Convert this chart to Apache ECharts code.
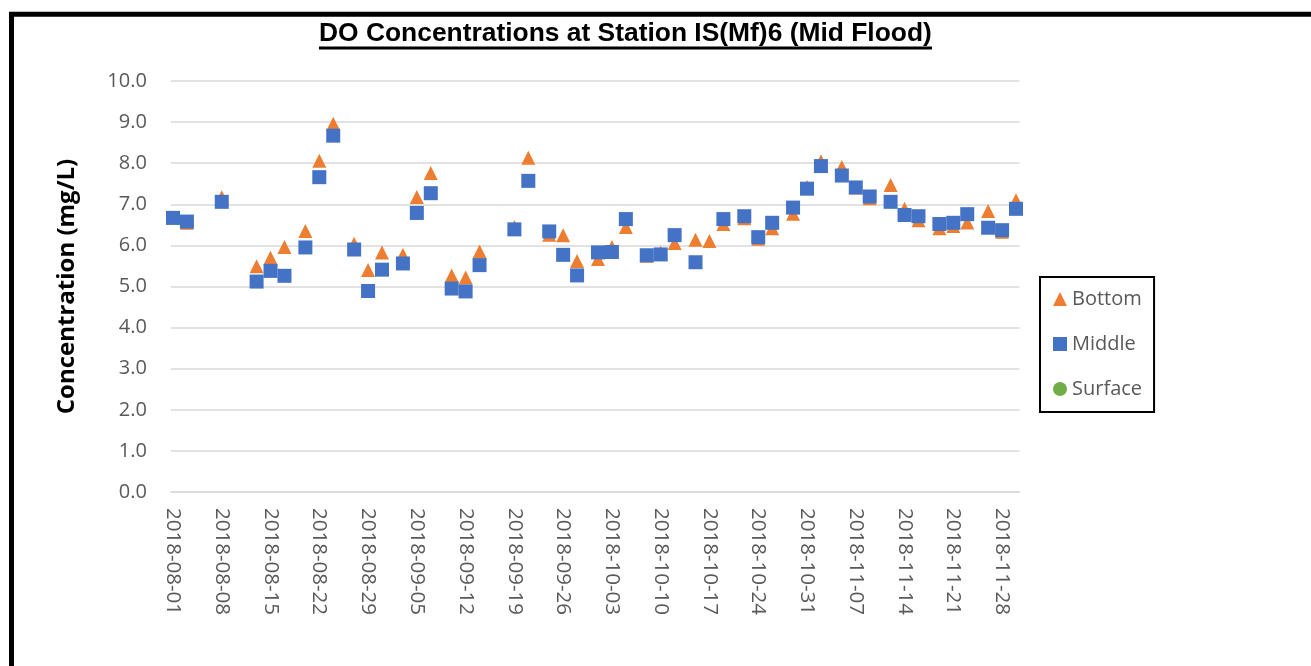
<!DOCTYPE html>
<html><head><meta charset="utf-8">
<script src="https://cdn.jsdelivr.net/npm/echarts@6/dist/echarts.min.js"></script>
<style>html,body{margin:0;padding:0;background:#fff}#c{width:1311px;height:666px}</style>
</head><body><div id="c"></div>
<script>
const chartTitle = 'DO Concentrations at Station IS(Mf)6 (Mid Flood)';
const yAxisTitle = 'Concentration (mg/L)';
const startDate = '2018-08-01';

const dates = ['2018-08-01','2018-08-03','2018-08-08','2018-08-13','2018-08-15','2018-08-17','2018-08-20','2018-08-22','2018-08-24','2018-08-27','2018-08-29','2018-08-31','2018-09-03','2018-09-05','2018-09-07','2018-09-10','2018-09-12','2018-09-14','2018-09-19','2018-09-21','2018-09-24','2018-09-26','2018-09-28','2018-10-01','2018-10-03','2018-10-05','2018-10-08','2018-10-10','2018-10-12','2018-10-15','2018-10-17','2018-10-19','2018-10-22','2018-10-24','2018-10-26','2018-10-29','2018-10-31','2018-11-02','2018-11-05','2018-11-07','2018-11-09','2018-11-12','2018-11-14','2018-11-16','2018-11-19','2018-11-21','2018-11-23','2018-11-26','2018-11-28','2018-11-30'];
const bottom = [6.68,6.55,7.17,5.49,5.70,5.96,6.35,8.06,8.96,6.04,5.40,5.83,5.77,7.18,7.76,5.27,5.22,5.85,6.45,8.13,6.26,6.25,5.62,5.67,5.96,6.45,5.75,5.82,6.06,6.14,6.11,6.52,6.66,6.16,6.42,6.77,7.42,8.05,7.91,7.41,7.15,7.47,6.89,6.61,6.42,6.47,6.56,6.84,6.33,7.10];
const middle = [6.67,6.58,7.06,5.12,5.38,5.26,5.95,7.66,8.67,5.90,4.89,5.41,5.56,6.79,7.27,4.95,4.88,5.52,6.39,7.57,6.34,5.77,5.27,5.83,5.84,6.64,5.76,5.78,6.25,5.59,null,6.64,6.71,6.20,6.55,6.92,7.38,7.93,7.70,7.41,7.19,7.06,6.74,6.71,6.52,6.55,6.76,6.43,6.37,6.89];
const surface = dates.map(() => null); // no surface readings shown

const xTickLabels = ['2018-08-01','2018-08-08','2018-08-15','2018-08-22','2018-08-29','2018-09-05','2018-09-12','2018-09-19','2018-09-26','2018-10-03','2018-10-10','2018-10-17','2018-10-24','2018-10-31','2018-11-07','2018-11-14','2018-11-21','2018-11-28'];
const yMin = 0, yMax = 10, yStep = 1;

function dayOf(s){
  const p = s.split('-').map(Number);
  const q = startDate.split('-').map(Number);
  return Math.round((Date.UTC(p[0],p[1]-1,p[2]) - Date.UTC(q[0],q[1]-1,q[2]))/86400000);
}
const labelByDay = {};
xTickLabels.forEach(s => labelByDay[dayOf(s)] = s);
const tickDays = xTickLabels.map(dayOf);
function pts(vals){
  const out = [];
  dates.forEach((d,i) => { if (vals[i] !== null && vals[i] !== undefined) out.push([dayOf(d), vals[i]]); });
  return out;
}

const FONT = '"Open Sans", "Liberation Sans", sans-serif';
const chart = echarts.init(document.getElementById('c'), null, {renderer:'canvas'});
chart.setOption({
  animation: false,
  backgroundColor: '#ffffff',
  grid: {left: 170.9, top: 81, width: 848.6, height: 411, containLabel: false},
  xAxis: {
    type: 'value', min: -0.3, max: 121.5,
    axisLine: {show: true, lineStyle: {color: '#d9d9d9', width: 1.5}},
    axisTick: {show: false},
    splitLine: {show: false},
    axisLabel: {
      customValues: tickDays,
      rotate: -90, margin: 16, color: '#595959', fontFamily: FONT, fontSize: 20.5,
      formatter: v => labelByDay[Math.round(v)] || ''
    }
  },
  yAxis: {
    type: 'value', min: yMin, max: yMax, interval: yStep,
    name: yAxisTitle, nameLocation: 'middle', nameRotate: 90, nameGap: 92,
    nameTextStyle: {fontFamily: FONT, fontWeight: 'bold', fontSize: 24, color: '#000'},
    axisLine: {show: false}, axisTick: {show: false},
    splitLine: {show: true, lineStyle: {color: '#d9d9d9', width: 1.5}},
    axisLabel: {margin: 24, color: '#595959', fontFamily: FONT, fontSize: 20, formatter: v => v.toFixed(1)}
  },
  legend: {
    orient: 'vertical', left: 1040, top: 277,
    itemWidth: 14, itemHeight: 14, itemGap: 25, itemTextGap: 5,
    padding: [12, 12, 13, 13],
    borderColor: '#000', borderWidth: 2, backgroundColor: '#fff',
    textStyle: {fontFamily: FONT, fontSize: 20, color: '#595959', lineHeight: 20},
    data: [{name:'Bottom', icon:'triangle'}, {name:'Middle', icon:'rect'}, {name:'Surface', icon:'circle'}]
  },
  graphic: [
    {type:'rect', silent:true, shape:{x:11.5, y:14.3, width:1400, height:700}, style:{fill:'none', stroke:'#000', lineWidth:5}},
    {type:'text', silent:true, left: 319, top: 21, style:{text: chartTitle, font: 'bold 26.4px "Liberation Sans", sans-serif', fill:'#000'}},
    {type:'line', silent:true, shape:{x1:319, y1:48, x2:932, y2:48}, style:{stroke:'#000', lineWidth:3}}
  ],
  series: [
    {name:'Bottom', type:'scatter', symbol:'triangle', symbolSize:14, itemStyle:{color:'#ED7D31', opacity:1}, data: pts(bottom), z: 2},
    {name:'Middle', type:'scatter', symbol:'rect', symbolSize:14, itemStyle:{color:'#4472C4', opacity:1}, data: pts(middle), z: 3},
    {name:'Surface', type:'scatter', symbol:'circle', symbolSize:13, itemStyle:{color:'#70AD47', opacity:1}, data: pts(surface), z: 4}
  ]
});
</script>
</body></html>
